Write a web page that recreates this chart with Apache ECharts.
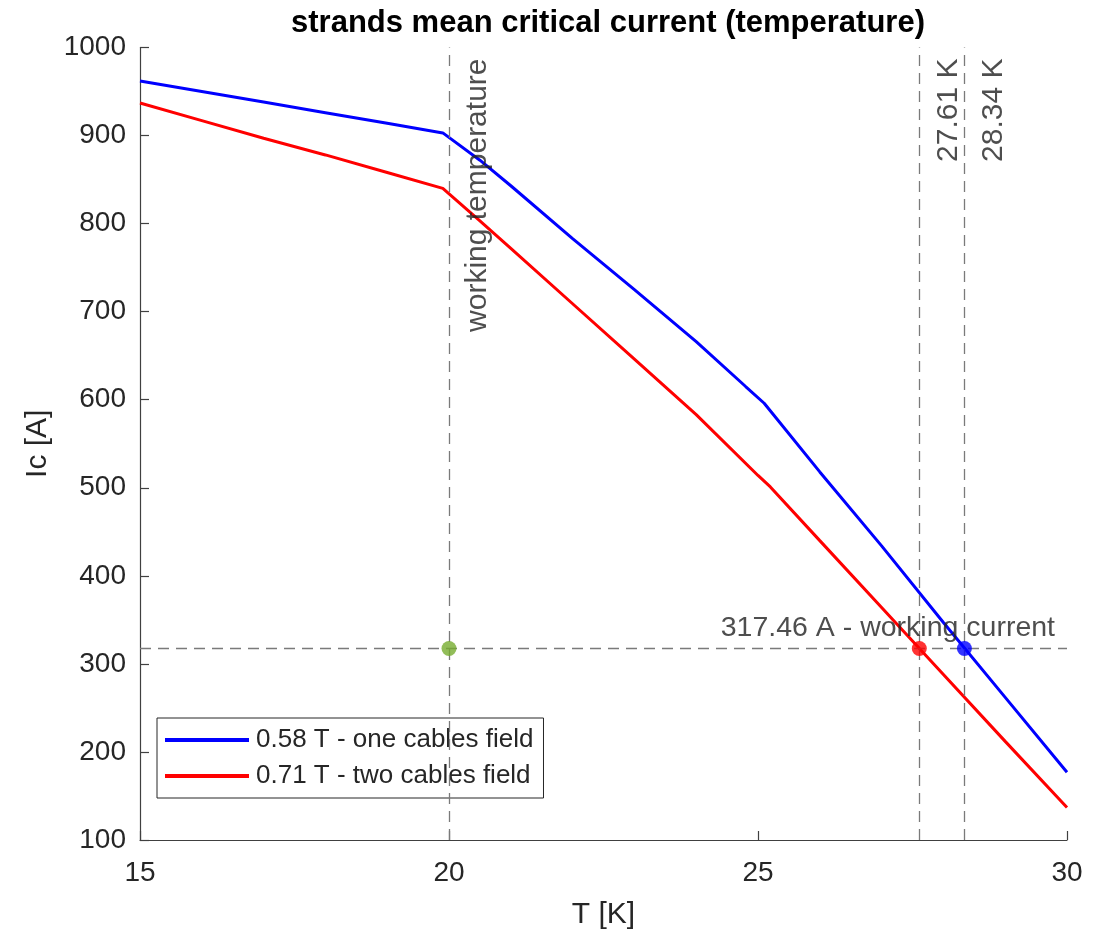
<!DOCTYPE html>
<html><head><meta charset="utf-8">
<script src="https://cdn.jsdelivr.net/npm/echarts@6/dist/echarts.min.js"></script>
<style>html,body{margin:0;padding:0;background:#fff}#c{width:1099px;height:937px}</style>
</head><body><div id="c"></div>
<script>
const titleText = 'strands mean critical current (temperature)';
const xAxisName = 'T [K]';
const yAxisName = 'Ic [A]';
const seriesNames = ['0.58 T - one cables field', '0.71 T - two cables field'];
const tBlue  = [15, 16, 17, 18, 19, 19.9, 20.5, 21, 22, 23, 24, 24.8, 25.1, 26, 27, 28, 29, 30];
const icBlue = [962, 950, 938, 926, 914, 903, 872, 843, 783, 725, 666, 615, 596, 518, 434, 347, 262, 177];
const tRed   = [15, 16, 17, 18, 19, 19.9, 20.5, 21, 22, 23, 24, 25, 25.2, 26, 27, 28, 29, 30];
const icRed  = [937, 917, 897, 878, 858, 840, 803, 772, 709, 646, 583, 514, 501, 440, 364, 288, 212, 137];
const workingTemp = 20;
const workingCurrent = 317.46;
const criticalTemps = [27.61, 28.34];   // red, blue
const xRange = [15, 30, 5];
const yRange = [100, 1000, 100];

const FONT = "'Liberation Sans', Arial, Helvetica, sans-serif";
const TXT = '#262626';
const DASH = '#7a7a7a';

const zip = (a, b) => a.map((v, i) => [v, b[i]]);

const chart = echarts.init(document.getElementById('c'), null, {renderer: 'canvas'});

const vLabelItems = [
  {value: [workingTemp, yRange[1]], label: {formatter: 'working temperature'}},
  {value: [criticalTemps[0], yRange[1]], label: {formatter: criticalTemps[0].toFixed(2) + ' K'}},
  {value: [criticalTemps[1], yRange[1]], label: {formatter: criticalTemps[1].toFixed(2) + ' K'}}
];

chart.setOption({
  animation: false,
  backgroundColor: '#fff',
  textStyle: {fontFamily: FONT},
  title: {
    text: titleText, left: 603, top: 3, textAlign: 'center',
    textStyle: {fontFamily: FONT, fontWeight: 'bold', fontSize: 31, color: '#000'}
  },
  grid: {left: 140, right: 32, top: 47.5, bottom: 97, containLabel: false},
  legend: {
    orient: 'vertical', left: 157, top: 718,
    data: seriesNames,
    icon: 'rect', itemWidth: 84, itemHeight: 4, itemGap: 10,
    padding: [9, 10, 9, 8],
    backgroundColor: '#fff', borderColor: '#262626', borderWidth: 1,
    textStyle: {fontFamily: FONT, fontSize: 26, color: TXT, padding: [0, 0, 0, 2]}
  },
  xAxis: {
    type: 'value', min: xRange[0], max: xRange[1], interval: xRange[2],
    name: xAxisName, nameLocation: 'middle', nameGap: 60,
    nameTextStyle: {fontFamily: FONT, fontSize: 30, color: TXT},
    axisLine: {show: true, lineStyle: {color: '#404040', width: 1.2}},
    axisTick: {show: true, inside: true, length: 9, lineStyle: {color: '#404040', width: 1.2}},
    axisLabel: {fontFamily: FONT, fontSize: 28, color: TXT, margin: 19},
    splitLine: {show: false}
  },
  yAxis: {
    type: 'value', min: yRange[0], max: yRange[1], interval: yRange[2],
    name: yAxisName, nameLocation: 'middle', nameGap: 80, nameRotate: 90,
    nameTextStyle: {fontFamily: FONT, fontSize: 30, color: TXT},
    axisLine: {show: true, lineStyle: {color: '#404040', width: 1.2}},
    axisTick: {show: true, inside: true, length: 9, lineStyle: {color: '#404040', width: 1.2}},
    axisLabel: {fontFamily: FONT, fontSize: 28, color: TXT, margin: 14, formatter: v => String(v)},
    splitLine: {show: false}
  },
  series: [
    {
      name: seriesNames[0], type: 'line', data: zip(tBlue, icBlue),
      showSymbol: false, symbol: 'none', color: '#0000ff',
      lineStyle: {color: '#0000ff', width: 3}, z: 3,
      markLine: {
        silent: true, symbol: 'none', animation: false,
        label: {show: false},
        lineStyle: {color: DASH, width: 1.3, type: [11, 7]},
        data: [
          {xAxis: workingTemp},
          {xAxis: criticalTemps[0]},
          {xAxis: criticalTemps[1]},
          {yAxis: workingCurrent}
        ]
      }
    },
    {
      name: seriesNames[1], type: 'line', data: zip(tRed, icRed),
      showSymbol: false, symbol: 'none', color: '#ff0000',
      lineStyle: {color: '#ff0000', width: 3}, z: 3
    },
    {
      type: 'scatter', symbolSize: 15, z: 5, silent: true,
      data: [
        {value: [workingTemp, workingCurrent], itemStyle: {color: '#77ac30'}},
        {value: [criticalTemps[0], workingCurrent], itemStyle: {color: '#ff0000'}},
        {value: [criticalTemps[1], workingCurrent], itemStyle: {color: '#0000ff'}}
      ]
    },
    {
      type: 'scatter', symbolSize: 0, z: 6, silent: true,
      label: {
        show: true, position: [0, 0], rotate: 90, align: 'right', verticalAlign: 'top',
        fontFamily: FONT, fontSize: 30, color: '#222', padding: [14, 11, 0, 0]
      },
      data: vLabelItems
    },
    {
      type: 'scatter', symbolSize: 0, z: 6, silent: true,
      label: {
        show: true, position: [0, 0], align: 'right', verticalAlign: 'bottom',
        fontFamily: FONT, fontSize: 28.5, color: '#222', padding: [0, 12, 6, 0],
        formatter: workingCurrent.toFixed(2) + ' A - working current'
      },
      data: [[xRange[1], workingCurrent]]
    }
  ]
});
</script></body></html>
